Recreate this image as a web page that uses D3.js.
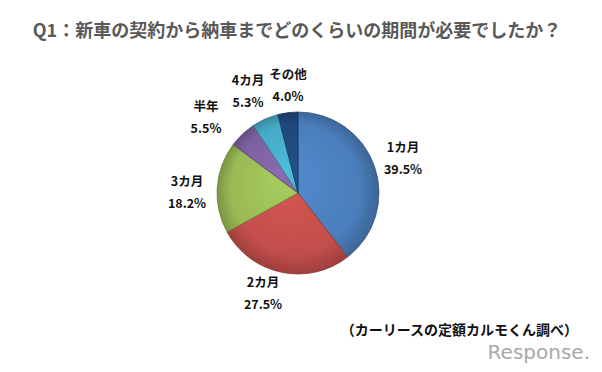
<!DOCTYPE html>
<html>
<head>
<meta charset="utf-8">
<script src="https://cdn.jsdelivr.net/npm/d3@7"></script>
<style>
    body { margin: 0; background: #fff; }
    text { font-family: 'Noto Sans CJK JP', 'Noto Sans', sans-serif; }
</style>
</head>
<body>
<svg id="chart"></svg>
<script>
    const width = 602;
    const height = 372;

    // data
    const categories = ["1カ月", "2カ月", "3カ月", "半年", "4カ月", "その他"];
    const values = [39.5, 27.5, 18.2, 5.5, 5.3, 4.0];
    const colors = ["#4a7ebb", "#c24e4b", "#98b954", "#7d60a0", "#46aac5", "#1f497d"];
    // label positions (centre of the name line)
    const labelPos = [[403, 148], [263, 283], [187, 182], [206, 107], [248, 81], [288, 75]];

    const center = [298, 193];
    const radius = 81;

    const svg = d3.select('#chart').attr('width', width).attr('height', height);
    const defs = svg.append('defs');

    // gradients live in the pie group's own coordinates (centre = 0,0)
    colors.forEach((c, i) => {
        const g = defs.append('radialGradient')
            .attr('id', 'grad' + i)
            .attr('gradientUnits', 'userSpaceOnUse')
            .attr('cx', 0).attr('cy', 0).attr('r', radius)
            .attr('fx', -15).attr('fy', -20);
        g.append('stop').attr('offset', '0%').attr('stop-color', d3.color(c).brighter(0.3));
        g.append('stop').attr('offset', '80%').attr('stop-color', c);
        g.append('stop').attr('offset', '100%').attr('stop-color', d3.color(c).darker(0.6));
    });

    svg.append('text')
        .attr('x', 297).attr('y', 37)
        .attr('text-anchor', 'middle')
        .attr('font-size', 18).attr('font-weight', 'bold')
        .attr('fill', '#595959')
        .text('Q1：新車の契約から納車までどのくらいの期間が必要でしたか？');

    const pie = d3.pie().sort(null).value(d => d);
    const arc = d3.arc().innerRadius(0).outerRadius(radius);

    const pieGroup = svg.append('g').attr('transform', `translate(${center[0]},${center[1]})`);

    pieGroup.selectAll('path')
        .data(pie(values))
        .enter().append('path')
        .attr('d', arc)
        .attr('fill', (d, i) => `url(#grad${i})`)
        .attr('stroke', (d, i) => d3.color(colors[i]).darker(0.9))
        .attr('stroke-width', 0.8);

    const labels = svg.append('g')
        .attr('font-size', 12.5).attr('font-weight', 'bold').attr('fill', '#111');

    categories.forEach((name, i) => {
        const [x, y] = labelPos[i];
        labels.append('text')
            .attr('x', x).attr('y', y).attr('dy', '0.35em')
            .attr('text-anchor', 'middle')
            .text(name);
        labels.append('text')
            .attr('x', x).attr('y', y + 22).attr('dy', '0.35em')
            .attr('text-anchor', 'middle')
            .text(values[i].toFixed(1) + '%');
    });

    svg.append('text')
        .attr('x', 578).attr('y', 330).attr('dy', '0.35em')
        .attr('text-anchor', 'end')
        .attr('font-size', 14).attr('font-weight', 'bold').attr('fill', '#111')
        .text('（カーリースの定額カルモくん調べ）');

    svg.append('text')
        .attr('x', 590).attr('y', 352).attr('dy', '0.35em')
        .attr('text-anchor', 'end')
        .attr('font-size', 20).attr('fill', '#a8a8a8')
        .style('font-family', 'DejaVu Sans')
        .text('Response.');
</script>
</body>
</html>
